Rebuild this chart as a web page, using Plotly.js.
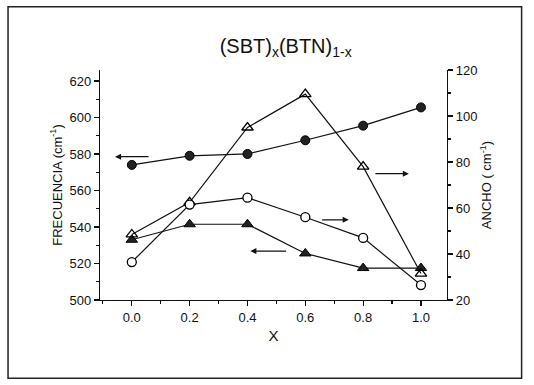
<!DOCTYPE html>
<html>
<head>
<meta charset="utf-8">
<script src="https://cdn.plot.ly/plotly-3.0.1.min.js"></script>
<style>
html,body{margin:0;padding:0;background:#fff;}
#chart{width:534px;height:385px;}
</style>
</head>
<body>
<div id="chart"></div>
<script>
// Data
const xVals = [0.0, 0.2, 0.4, 0.6, 0.8, 1.0];
const freqFilledCircle = [574, 579, 580, 587.5, 595.5, 605.5];   // left axis
const freqFilledTriangle = [533, 541.5, 541.5, 525.5, 517.5, 517.5]; // left axis
const anchoOpenTriangle = [48.5, 62.5, 95, 109.5, 78, 31.5];      // right axis
const anchoOpenCircle = [36.5, 61.5, 64.5, 56, 47, 26.5];          // right axis

const xTickVals = [0.0, 0.2, 0.4, 0.6, 0.8, 1.0];
const xTickText = ["0.0", "0.2", "0.4", "0.6", "0.8", "1.0"];
const leftTickVals = [500, 520, 540, 560, 580, 600, 620];
const rightTickVals = [20, 40, 60, 80, 100, 120];

const lineStyle = {color: '#111', width: 1.2};
const traces = [
  {x: xVals, y: freqFilledCircle, yaxis: 'y', mode: 'lines+markers', line: lineStyle,
   marker: {symbol: 'circle', size: 9, color: '#222', line: {color: '#000', width: 1}}},
  {x: xVals, y: freqFilledTriangle, yaxis: 'y', mode: 'lines+markers', line: lineStyle,
   marker: {symbol: 'triangle-up', size: 10, color: '#222', line: {color: '#000', width: 1}}},
  {x: xVals, y: anchoOpenTriangle, yaxis: 'y2', mode: 'lines+markers', line: lineStyle,
   marker: {symbol: 'triangle-up-open', size: 10, color: '#000', line: {color: '#000', width: 1.3}}},
  {x: xVals, y: anchoOpenCircle, yaxis: 'y2', mode: 'lines+markers', line: lineStyle,
   marker: {symbol: 'circle', size: 9, color: '#fff', line: {color: '#000', width: 1.3}}}
];

function arrow(tx, ty, hx, hy) {
  return {x: hx, y: hy, ax: tx, ay: ty, xref: 'x', yref: 'y', axref: 'x', ayref: 'y',
          showarrow: true, arrowhead: 2, arrowsize: 1, arrowwidth: 1.2, arrowcolor: '#111', text: ''};
}

const font = {family: 'Liberation Sans, Arial, sans-serif', color: '#111'};

const layout = {
  width: 534, height: 385,
  margin: {l: 100, r: 87, t: 70, b: 85},
  paper_bgcolor: '#fff', plot_bgcolor: '#fff',
  showlegend: false,
  font: font,
  title: {text: '(SBT)<sub>x</sub>(BTN)<sub>1-x</sub>', font: {size: 20, family: font.family, color: '#111'},
          x: 0.535, xanchor: 'center', y: 0.88, yanchor: 'middle'},
  xaxis: {range: [-0.11, 1.09], tickvals: xTickVals, ticktext: xTickText,
          showgrid: false, zeroline: false, showline: true, linecolor: '#111', linewidth: 1.2,
          ticks: 'outside', ticklen: 5, tickcolor: '#111', tickwidth: 1.2,
          minor: {dtick: 0.1, tick0: 0, ticks: 'outside', ticklen: 3, tickcolor: '#111'},
          tickfont: {size: 13, family: font.family, color: '#111'},
          title: {text: 'X', font: {size: 15, family: font.family, color: '#111'}, standoff: 6}},
  yaxis: {range: [500, 626], tickvals: leftTickVals,
          showgrid: false, zeroline: false, showline: true, linecolor: '#111', linewidth: 1.2,
          ticks: 'outside', ticklen: 5, tickcolor: '#111', tickwidth: 1.2,
          minor: {dtick: 10, tick0: 500, ticks: 'outside', ticklen: 3, tickcolor: '#111'},
          tickfont: {size: 13, family: font.family, color: '#111'},
          title: {text: 'FRECUENCIA (cm<sup>-1</sup>)', font: {size: 13, family: font.family, color: '#111'}, standoff: 4}},
  yaxis2: {range: [20, 120], tickvals: rightTickVals, overlaying: 'y', side: 'right',
          showgrid: false, zeroline: false, showline: true, linecolor: '#111', linewidth: 1.2,
          ticks: 'outside', ticklen: 5, tickcolor: '#111', tickwidth: 1.2,
          minor: {dtick: 10, tick0: 20, ticks: 'outside', ticklen: 3, tickcolor: '#111'},
          tickfont: {size: 13, family: font.family, color: '#111'},
          title: {text: 'ANCHO ( cm<sup>-1</sup>)', font: {size: 13, family: font.family, color: '#111'}, standoff: 5}},
  annotations: [
    arrow(0.063, 578.5, -0.058, 578.5),
    arrow(0.837, 569.2, 0.958, 569.2),
    arrow(0.653, 543.9, 0.750, 543.9),
    arrow(0.539, 526.8, 0.410, 526.8)
  ],
  shapes: [
    {type: 'rect', xref: 'paper', yref: 'paper', x0: -0.265, x1: 1.215, y0: -0.34, y1: 1.275,
     line: {color: '#222', width: 1.5}, fillcolor: 'rgba(0,0,0,0)'}
  ]
};

Plotly.newPlot('chart', traces, layout, {staticPlot: true, displayModeBar: false});
</script>
</body>
</html>
